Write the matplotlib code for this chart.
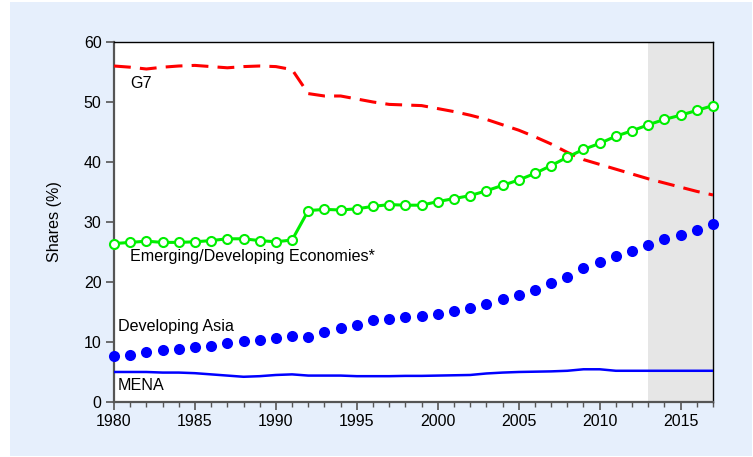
import matplotlib
matplotlib.use('Agg')
import matplotlib.pyplot as plt
from matplotlib.patches import Rectangle
from matplotlib.ticker import MultipleLocator
import numpy as np

plt.rcParams['font.family'] = ['Liberation Sans', 'DejaVu Sans']

years = np.arange(1980, 2018)

g7 = [56.0, 55.8, 55.5, 55.8, 56.0, 56.1, 55.9, 55.7, 55.9, 56.0, 55.9, 55.4,
      51.4, 51.0, 51.0, 50.5, 50.0, 49.6, 49.5, 49.4, 48.9, 48.4, 47.8, 47.1,
      46.2, 45.3, 44.2, 43.0, 41.6, 40.4, 39.6, 38.8, 38.0, 37.2, 36.5, 35.8,
      35.1, 34.5]

emerging = [26.4, 26.6, 26.8, 26.6, 26.6, 26.7, 26.9, 27.2, 27.2, 26.9, 26.7, 27.0,
            31.9, 32.1, 32.0, 32.2, 32.6, 32.9, 32.8, 32.8, 33.4, 33.9, 34.4, 35.2,
            36.1, 37.0, 38.1, 39.4, 40.8, 42.1, 43.1, 44.3, 45.2, 46.2, 47.1, 47.8,
            48.6, 49.4]

dev_asia = [7.7, 7.9, 8.3, 8.7, 8.9, 9.2, 9.4, 9.8, 10.1, 10.3, 10.6, 11.0,
            10.9, 11.7, 12.4, 12.9, 13.6, 13.9, 14.1, 14.4, 14.6, 15.2, 15.7, 16.4,
            17.1, 17.8, 18.7, 19.8, 20.8, 22.4, 23.4, 24.4, 25.2, 26.2, 27.1, 27.9,
            28.7, 29.7]

mena = [5.0, 5.0, 5.0, 4.9, 4.9, 4.8, 4.6, 4.4, 4.2, 4.3, 4.5, 4.6,
        4.4, 4.4, 4.4, 4.3, 4.3, 4.3, 4.35, 4.35, 4.4, 4.45, 4.5, 4.75,
        4.9, 5.0, 5.05, 5.1, 5.2, 5.45, 5.45, 5.2, 5.2, 5.2, 5.2, 5.2,
        5.2, 5.2]

forecast_start = 2013

bg = '#e6effc'
fig = plt.figure(figsize=(7.53, 4.57), dpi=100, facecolor='white')
# light blue panel behind the chart
fig.patches.append(Rectangle((10 / 753, 1 / 457), 742 / 753, 454 / 457,
                             transform=fig.transFigure, facecolor=bg,
                             edgecolor='none', zorder=-10))
ax = fig.add_axes([0.1514, 0.1204, 0.7955, 0.7877])
ax.set_zorder(1)
ax.set_facecolor('white')

ax.axvspan(forecast_start, years[-1], color='#e6e6e6', zorder=0, lw=0)

ax.plot(years, g7, color='#ff0000', lw=2.2, dashes=(5.5, 3), zorder=3)
ax.plot(years, emerging, color='#00ee00', lw=2.2, marker='o', markersize=6.5,
        markerfacecolor='white', markeredgecolor='#00ee00', markeredgewidth=1.5,
        zorder=4, clip_on=False)
ax.plot(years, dev_asia, linestyle='none', marker='o', markersize=8,
        color='#0000ff', markeredgewidth=0, zorder=4, clip_on=False)
ax.plot(years, mena, color='#0000ff', lw=1.8, zorder=3)

lbl = 11.6
ax.text(1981, 53.0, 'G7', fontsize=lbl, va='center')
ax.text(1981, 24.2, 'Emerging/Developing Economies*', fontsize=lbl, va='center')
ax.text(1980.25, 12.6, 'Developing Asia', fontsize=lbl, va='center')
ax.text(1980.25, 2.8, 'MENA', fontsize=lbl, va='center')

ax.set_xlim(1980, 2017)
ax.set_ylim(0, 60)
ax.xaxis.set_major_locator(MultipleLocator(5))
ax.xaxis.set_minor_locator(MultipleLocator(1))
ax.yaxis.set_major_locator(MultipleLocator(10))
ax.tick_params(axis='both', which='major', length=5.5, width=1.2, color='#555555',
               labelsize=11.5)
ax.tick_params(axis='x', which='minor', length=3.5, width=1.0, color='#555555')
ax.set_ylabel('Shares (%)', fontsize=11.6)
ax.yaxis.set_label_coords(-0.086, 0.5)

for side in ['left', 'bottom']:
    ax.spines[side].set_color('#555555')
    ax.spines[side].set_linewidth(1.6)
for side in ['top', 'right']:
    ax.spines[side].set_color('black')
    ax.spines[side].set_linewidth(1.0)

plt.savefig('out.png', dpi=100, facecolor='white')
plt.close()
